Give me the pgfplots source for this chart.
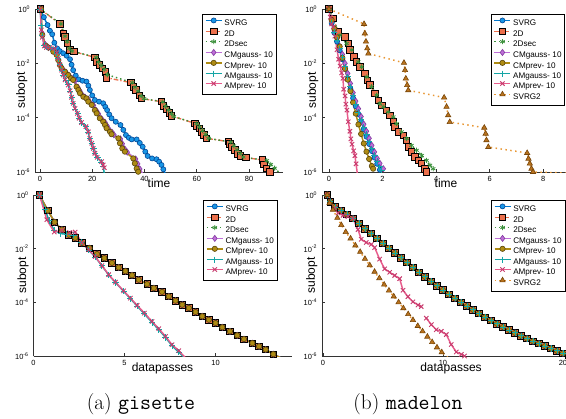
\documentclass[border=0pt]{standalone}
\usepackage{fontspec}
\usepackage{pgfplots}
\pgfplotsset{compat=1.18}
\usepackage{pgfplotstable}
\newfontfamily\arial{Liberation Sans}

\definecolor{cSVRG}{RGB}{0,120,205}
\definecolor{cSVRGf}{RGB}{25,150,230}
\definecolor{cSVRGd}{RGB}{0,70,150}
\definecolor{c2D}{RGB}{236,112,76}
\definecolor{c2Dsec}{RGB}{60,145,60}
\definecolor{cCMg}{RGB}{190,110,215}
\definecolor{cCMgd}{RGB}{130,60,160}
\definecolor{cCMp}{RGB}{175,140,20}
\definecolor{cCMpd}{RGB}{90,70,10}
\definecolor{cAMg}{RGB}{20,165,165}
\definecolor{cAMp}{RGB}{232,92,140}
\definecolor{cAMpd}{RGB}{200,60,110}
\definecolor{cSV2}{RGB}{232,150,50}
\definecolor{cSV2f}{RGB}{185,115,30}
\definecolor{cSV2d}{RGB}{120,70,10}

% y values are log10(subopt)
% gisette, datapasses: SVRG, 2D, 2Dsec, CMgauss, CMprev overlap
\pgfplotstableread{
x y
0.33 0
0.79 -0.58
1.16 -1.01
1.56 -1.29
1.93 -1.48
2.29 -1.60
2.66 -1.79
3.08 -1.98
3.49 -2.20
3.89 -2.35
4.31 -2.53
4.68 -2.70
5.05 -2.84
5.41 -2.99
5.78 -3.16
6.24 -3.32
6.61 -3.47
7.06 -3.61
7.43 -3.78
7.80 -3.94
8.17 -4.09
8.53 -4.21
8.90 -4.36
9.27 -4.52
9.63 -4.65
10.00 -4.77
10.37 -4.93
10.79 -5.08
11.19 -5.23
11.56 -5.37
12.02 -5.52
12.39 -5.64
12.75 -5.76
13.17 -5.93
13.58 -6.07
}\gisdpA

% madelon, datapasses: SVRG, 2D, 2Dsec, CMgauss, CMprev, AMgauss overlap
\pgfplotstableread{
x y
0.35 0
0.6 -0.25
1.0 -0.45
1.5 -0.58
2.0 -0.72
2.5 -0.88
3.0 -1.06
3.5 -1.26
4.0 -1.44
4.5 -1.62
5.0 -1.80
5.5 -1.98
6.0 -2.16
6.5 -2.34
7.0 -2.52
7.5 -2.70
8.0 -2.88
8.5 -3.05
9.0 -3.22
9.5 -3.38
10.0 -3.54
10.5 -3.70
11.0 -3.85
11.5 -4.00
12.0 -4.14
12.5 -4.28
13.0 -4.42
13.5 -4.55
14.0 -4.68
14.5 -4.80
15.0 -4.92
15.5 -5.03
16.0 -5.14
16.5 -5.25
17.0 -5.35
17.5 -5.45
18.0 -5.54
18.5 -5.63
19.0 -5.72
19.5 -5.81
20.0 -5.90
20.5 -5.97
}\maddpA

\pgfplotsset{
  subopt axis/.style={
    scale only axis, anchor=south west,
    ymin=-6, ymax=0, ytick={-6,-4,-2,0},
    yticklabels={10\textsuperscript{-6},10\textsuperscript{-4},10\textsuperscript{-2},10\textsuperscript{0}},
    axis x line*=bottom, axis y line*=left,
    axis line style={-, line width=0.55pt, black!80},
    tick align=inside, major tick length=2.2pt,
    tick style={black!80, line width=0.5pt},
    tick label style={font=\arial\fontsize{5.6}{6}\selectfont},
    /pgf/number format/assume math mode=true,
    label style={font=\arial\fontsize{9}{10}\selectfont},
    ylabel=subopt,
    xlabel style={anchor=center},
    ylabel style={anchor=center},
    unbounded coords=jump,
    legend cell align=left,
    legend style={anchor=north west, draw=black, line width=0.6pt,
      font=\arial\fontsize{6.1}{7}\selectfont,
      inner xsep=2pt, inner ysep=2.6pt, row sep=0pt, column sep=1pt,
      nodes={inner sep=0.5pt, text height=4.75pt, text depth=1.45pt}},
    legend image code/.code={
      \draw[mark repeat=2,mark phase=2] plot coordinates {(0pt,2.2pt) (6pt,2.2pt) (12pt,2.2pt)};},
  },
  top legend/.style={legend style={column 2/.style={nodes={text width=39.5pt, align=left}}}},
  bottom legend/.style={legend style={column 2/.style={nodes={text width=45.5pt, align=left}}}},
  pSVRG/.style={color=cSVRG, line width=1.1pt, mark=*, mark size=1.9pt,
    mark options={solid, fill=cSVRGf, draw=cSVRGd, line width=0.45pt}},
  p2D/.style={color=c2D, line width=1.0pt, dash pattern=on 3.5pt off 1.5pt on 1pt off 1.5pt,
    mark=square*, mark size=2.4pt, mark options={solid, fill=c2D, draw=black, line width=0.6pt}},
  p2Ds/.style={color=c2Dsec, line width=1.1pt, dash pattern=on 1.1pt off 2.2pt,
    mark=asterisk, mark size=1.9pt, mark options={solid, line width=0.6pt}},
  pCMg/.style={color=cCMg, line width=1.1pt, mark=diamond*, mark size=2.3pt,
    mark options={solid, fill=cCMg, draw=cCMgd, line width=0.45pt}},
  pCMp/.style={color=cCMp, line width=1.1pt, mark=*, mark size=2.0pt,
    mark options={solid, fill=cCMp, draw=cCMpd, line width=0.45pt}},
  pAMg/.style={color=cAMg, line width=1.1pt, mark=+, mark size=2.3pt,
    mark options={solid, line width=0.7pt}},
  pAMp/.style={color=cAMp, line width=1.1pt, mark=x, mark size=2.3pt,
    mark options={solid, draw=cAMpd, line width=0.7pt}},
  pSV2/.style={color=cSV2, line width=1.1pt, dash pattern=on 1.1pt off 2.6pt,
    mark=triangle*, mark size=2.3pt, mark options={solid, fill=cSV2f, draw=cSV2d, line width=0.45pt}},
}

\begin{document}
\begin{tikzpicture}

% ---------- (a) gisette, time ----------
\begin{axis}[subopt axis, top legend, at={(26.25pt,-129pt)}, width=186pt, height=122.25pt,
  xmin=-1.9, xmax=93, xtick={0,20,40,60,80}, xlabel=time,
  xlabel style={at={(axis description cs:0.5,-0.066)}},
  ylabel style={at={(axis description cs:-0.053,0.5)}},
  legend style={at={(axis description cs:0.673,0.969)}},
  legend entries={SVRG,2D,2Dsec,CMgauss- 10,CMprev- 10,AMgauss- 10,AMprev- 10}]
\addplot[pSVRG] coordinates {(0.1,0) (1.5,-0.3) (2.9,-0.59) (3.8,-0.8) (4.7,-0.93) (5.5,-1.24)
 (6.6,-1.45) (7.6,-1.55) (8.9,-1.63) (10.2,-1.72) (11.5,-1.85) (12.1,-2.05) (12.7,-2.25)
 (13.7,-2.45) (14.8,-2.59) (16.3,-2.64) (17.8,-2.67) (18.5,-2.82) (19.1,-2.98) (20.0,-3.18)
 (21.0,-3.35) (22.6,-3.41) (24.2,-3.47) (25.0,-3.6) (25.7,-3.72) (26.5,-3.88) (27.4,-4.02)
 (29.0,-4.15) (30.8,-4.27) (31.9,-4.45) (32.9,-4.64) (34.0,-4.74) (35.1,-4.8) (37.0,-4.8)
 (38.2,-4.93) (39.3,-5.07) (40.3,-5.25) (41.2,-5.41) (42.9,-5.5) (44.6,-5.53) (45.6,-5.62)
 (46.5,-5.74) (47.2,-5.9) (47.9,-6.05)};
\addplot[p2D] coordinates {(0.1,0) (7.6,-0.55) (8.9,-0.90) (9.6,-1.02) (10.6,-1.26) (11.5,-1.51)
 (13.0,-1.57) (21.0,-1.78) (21.7,-1.94) (22.7,-2.06) (24.0,-2.18) (25.0,-2.31) (25.5,-2.53)
 (34.8,-2.71) (35.7,-2.86) (36.7,-2.98) (38.0,-3.17) (38.9,-3.30) (46.5,-3.41) (47.2,-3.57)
 (48.4,-3.69) (49.5,-3.82) (50.4,-3.94) (59.3,-4.21) (59.9,-4.31) (60.9,-4.39) (61.8,-4.52)
 (62.7,-4.64) (63.7,-4.76) (72.0,-4.88) (72.7,-4.97) (73.3,-5.07) (74.6,-5.19) (75.8,-5.34)
 (76.7,-5.41) (78.8,-5.47) (85.2,-5.56) (85.7,-5.72) (86.7,-5.87) (88.0,-5.99)};
\addplot[p2Ds] coordinates {(0,0) (8.0,-0.55) (9.6,-1.0) (10.4,-1.2) (11.2,-1.45) (12.3,-1.55)
 (21.5,-1.78) (22.4,-1.95) (23.4,-2.08) (24.6,-2.22) (25.8,-2.42) (35.3,-2.71) (36.4,-2.88)
 (37.5,-3.02) (38.7,-3.2) (39.8,-3.3) (47.0,-3.42) (48.0,-3.58) (49.2,-3.72) (50.3,-3.86)
 (51.2,-3.96) (60.0,-4.22) (61.0,-4.34) (62.2,-4.48) (63.4,-4.62) (64.5,-4.76) (73.0,-4.9)
 (74.2,-5.04) (75.4,-5.18) (76.6,-5.32) (77.8,-5.45) (86.8,-5.58) (88.3,-5.72) (89.8,-5.86)
 (91.8,-6.05)};
\addplot[pCMg] coordinates {(0.3,0) (0.9,-0.9) (2.0,-1.3) (3.3,-1.42) (5.0,-1.55) (6.5,-1.68)
 (7.2,-1.88) (7.9,-2.08) (8.6,-2.2) (9.9,-2.32) (11.2,-2.45) (12.5,-2.57) (13.4,-2.63)
 (14.5,-2.88) (15.2,-3.0) (15.9,-3.12) (17.2,-3.24) (18.4,-3.31) (19.1,-3.43) (20.5,-3.55)
 (21.6,-3.74) (22.4,-3.86) (23.6,-4.04) (24.9,-4.17) (25.6,-4.29) (26.3,-4.41) (27.6,-4.54)
 (28.3,-4.63) (30.8,-4.78) (31.5,-4.96) (32.4,-5.15) (33.4,-5.27) (36.6,-5.52) (37.4,-5.7)
 (38.2,-5.89) (39.3,-6.05)};
\addplot[pCMp] coordinates {(0.4,0) (0.9,-0.96) (2.2,-1.35) (3.2,-1.42) (5.1,-1.57) (6.4,-1.69)
 (7.0,-1.88) (7.6,-2.06) (8.3,-2.18) (9.6,-2.31) (10.8,-2.43) (11.9,-2.55) (12.7,-2.61)
 (14.0,-2.86) (14.7,-2.98) (15.3,-3.10) (16.6,-3.23) (17.8,-3.29) (18.5,-3.41) (19.8,-3.53)
 (21.0,-3.72) (21.7,-3.84) (22.9,-4.02) (24.2,-4.15) (24.9,-4.27) (25.5,-4.39) (26.8,-4.52)
 (27.4,-4.61) (30.0,-4.76) (30.6,-4.94) (31.5,-5.13) (32.5,-5.25) (35.7,-5.50) (36.3,-5.68)
 (37.0,-5.87) (37.6,-5.99) (38.2,-6.07)};
\addplot[pAMg] coordinates {(0,0) (0.6,-0.62) (0.9,-0.98) (1.6,-1.33) (2.5,-1.4) (4.0,-1.42)
 (5.5,-1.5) (6.4,-1.63) (7.0,-1.83) (7.7,-2.05) (8.3,-2.27) (9.0,-2.45) (9.8,-2.62)
 (10.9,-2.78) (11.6,-3.02) (12.2,-3.27) (12.8,-3.49) (13.5,-3.68) (14.4,-3.86) (15.1,-4.04)
 (16.0,-4.2) (17.5,-4.34) (18.4,-4.54) (19.1,-4.78) (19.8,-4.96) (20.5,-5.15) (21.1,-5.33)
 (22.0,-5.48) (23.5,-5.64) (24.2,-5.78) (24.6,-6.05)};
\addplot[pAMp] coordinates {(0.1,0) (0.5,-0.77) (0.9,-1.04) (1.7,-1.36) (2.5,-1.42) (3.8,-1.42)
 (5.7,-1.46) (6.4,-1.61) (7.0,-1.82) (7.6,-2.04) (8.3,-2.25) (8.9,-2.43) (9.6,-2.61)
 (10.8,-2.80) (11.5,-3.01) (12.1,-3.25) (12.7,-3.47) (13.4,-3.66) (14.3,-3.84) (15.0,-4.02)
 (15.9,-4.18) (17.6,-4.33) (18.5,-4.52) (19.1,-4.76) (19.8,-4.94) (20.4,-5.13) (21.0,-5.31)
 (21.9,-5.46) (23.6,-5.62) (24.2,-5.74) (24.6,-5.84)};
\end{axis}

% ---------- (b) madelon, time ----------
\begin{axis}[subopt axis, top legend, at={(241.5pt,-129pt)}, width=186pt, height=122.25pt,
  xmin=-0.26, xmax=9, xtick={0,2,4,6,8}, xlabel=time,
  xlabel style={at={(axis description cs:0.5,-0.066)}},
  ylabel style={at={(axis description cs:-0.037,0.5)}},
  legend style={at={(axis description cs:0.680,0.969)}},
  legend entries={SVRG,2D,2Dsec,CMgauss- 10,CMprev- 10,AMgauss- 10,AMprev- 10,SVRG2}]
\addplot[pSVRG] coordinates {(0,0) (0.1,-0.52) (0.2,-0.88) (0.3,-1.2) (0.4,-1.52) (0.5,-1.85)
 (0.6,-2.2) (0.7,-2.58) (0.8,-2.94) (0.9,-3.28) (1.0,-3.58) (1.1,-3.87) (1.2,-4.15) (1.3,-4.43)
 (1.4,-4.7) (1.5,-4.97) (1.6,-5.23) (1.7,-5.47) (1.8,-5.7) (1.9,-5.92)};
\addplot[p2D] coordinates {(0,0) (0.16,-0.34) (0.35,-0.84) (0.60,-1.02) (0.72,-1.27) (0.78,-1.51)
 (0.93,-1.76) (1.03,-1.94) (1.16,-2.13) (1.34,-2.37) (1.43,-2.62) (1.53,-2.80) (1.72,-3.11)
 (1.84,-3.36) (1.97,-3.54) (2.15,-3.73) (2.28,-3.91) (2.40,-4.16) (2.46,-4.34) (2.59,-4.52)
 (2.77,-4.65) (2.90,-4.83) (2.96,-5.08) (3.08,-5.26) (3.21,-5.45) (3.33,-5.57) (3.46,-5.69)
 (3.58,-5.88) (3.64,-6.00)};
\addplot[p2Ds] coordinates {(0,0) (0.41,-0.96) (0.66,-1.27) (0.85,-1.51) (1.09,-1.94) (1.22,-2.13)
 (1.41,-2.50) (1.59,-2.86) (1.78,-3.17) (1.90,-3.48) (2.03,-3.60) (2.21,-3.79) (2.40,-3.97)
 (2.52,-4.22) (2.71,-4.52) (2.90,-4.77) (3.08,-5.02) (3.27,-5.20) (3.46,-5.39) (3.64,-5.57)
 (3.77,-5.75) (3.89,-5.88)};
\addplot[pCMg] coordinates {(0,0) (0.1,-0.45) (0.2,-0.78) (0.3,-1.08) (0.4,-1.37) (0.5,-1.67)
 (0.6,-2.00) (0.7,-2.37) (0.8,-2.74) (0.9,-3.08) (1.0,-3.39) (1.1,-3.67) (1.2,-3.96) (1.3,-4.24)
 (1.4,-4.50) (1.5,-4.76) (1.6,-5.02) (1.7,-5.26) (1.8,-5.50) (1.9,-5.68) (2.03,-5.88)};
\addplot[pCMp] coordinates {(0,0) (0.1,-0.4) (0.2,-0.72) (0.3,-1.04) (0.4,-1.38) (0.5,-1.8)
 (0.6,-2.2) (0.7,-2.6) (0.8,-3.02) (0.9,-3.44) (1.0,-3.85) (1.1,-4.25) (1.2,-4.6) (1.3,-4.95)
 (1.4,-5.25) (1.5,-5.52) (1.6,-5.78) (1.65,-5.88)};
\addplot[pAMg] coordinates {(0,0) (0.1,-0.5) (0.2,-0.85) (0.3,-1.15) (0.4,-1.46) (0.5,-1.78)
 (0.6,-2.12) (0.7,-2.5) (0.8,-2.86) (0.9,-3.2) (1.0,-3.5) (1.1,-3.79) (1.2,-4.07) (1.3,-4.35)
 (1.4,-4.62) (1.5,-4.88) (1.6,-5.14) (1.7,-5.38) (1.8,-5.6) (1.9,-5.8) (1.97,-5.94)};
\addplot[pAMp] coordinates {(0,0) (0.05,-0.3) (0.1,-0.55) (0.16,-0.66) (0.22,-1.0) (0.3,-1.5)
 (0.36,-1.85) (0.42,-2.1) (0.47,-2.35) (0.52,-2.55) (0.55,-2.95) (0.6,-3.2) (0.63,-3.5)
 (0.67,-3.72) (0.72,-4.15) (0.78,-4.5) (0.82,-4.78) (0.86,-4.98) (0.92,-5.22) (0.97,-5.4)
 (1.01,-5.7) (1.06,-6.06)};
\addplot[pSV2] coordinates {(0,0) (1.31,-0.55) (1.34,-0.90) (1.38,-1.20) (1.43,-1.45) (1.47,-1.64)
 (2.80,-1.98) (2.84,-2.25) (2.87,-2.56) (2.92,-2.80) (2.96,-2.99) (4.30,-3.26) (4.39,-3.60)
 (4.45,-3.91) (4.51,-4.16) (5.80,-4.37) (5.85,-4.59) (5.88,-4.83) (5.95,-5.08) (7.40,-5.30)
 (7.45,-5.51) (7.50,-5.69) (7.56,-5.88) (7.62,-6.00) (9.6,-6.06)};
\end{axis}

% ---------- (a) gisette, datapasses ----------
\begin{axis}[subopt axis, bottom legend, at={(25.125pt,-267pt)}, width=193.5pt, height=120.75pt,
  xmin=0, xmax=14.17, xtick={0,5,10}, xlabel=datapasses,
  xlabel style={at={(axis description cs:0.5,-0.076)}},
  ylabel style={at={(axis description cs:-0.041,0.5)}},
  legend style={at={(axis description cs:0.657,0.969)}},
  legend entries={SVRG,2D,2Dsec,CMgauss- 10,CMprev- 10,AMgauss- 10,AMprev- 10}]
\addplot[pSVRG] table {\gisdpA};
\addplot[p2D] table {\gisdpA};
\addplot[p2Ds] table {\gisdpA};
\addplot[pCMg] table {\gisdpA};
\addplot[pCMp] table {\gisdpA};
\addplot[pAMg] coordinates {(0.33,0) (0.64,-0.55) (0.85,-0.95) (1.14,-1.32) (1.5,-1.44) (1.83,-1.46)
 (2.2,-1.5) (2.61,-1.75) (3.03,-2.06) (3.39,-2.31) (3.76,-2.64) (4.13,-2.98) (4.5,-3.26)
 (4.95,-3.59) (5.32,-3.86) (5.69,-4.14) (6.09,-4.43) (6.51,-4.75) (6.88,-5.02) (7.25,-5.31)
 (7.61,-5.62) (7.98,-5.86) (8.44,-6.17)};
\addplot[pAMp] coordinates {(0.33,0) (0.73,-0.92) (1.14,-1.38) (1.55,-1.32) (1.98,-1.40) (2.29,-1.38)
 (2.66,-1.78) (3.03,-2.04) (3.39,-2.29) (3.76,-2.63) (4.13,-2.97) (4.50,-3.25) (4.95,-3.57)
 (5.32,-3.84) (5.69,-4.11) (6.09,-4.40) (6.51,-4.71) (6.88,-4.98) (7.25,-5.27) (7.61,-5.58)
 (7.98,-5.80) (8.35,-6.07)};
\end{axis}

% ---------- (b) madelon, datapasses ----------
\begin{axis}[subopt axis, bottom legend, at={(241.5pt,-267pt)}, width=193.5pt, height=120.75pt,
  xmin=-0.08, xmax=21.42, xtick={0,10,20}, xlabel=datapasses,
  xlabel style={at={(axis description cs:0.5,-0.076)}},
  ylabel style={at={(axis description cs:-0.04,0.5)}},
  legend style={at={(axis description cs:0.654,0.969)}},
  legend entries={SVRG,2D,2Dsec,CMgauss- 10,CMprev- 10,AMgauss- 10,AMprev- 10,SVRG2}]
\addplot[pSVRG] table {\maddpA};
\addplot[p2D] table {\maddpA};
\addplot[p2Ds] table {\maddpA};
\addplot[pCMg] table {\maddpA};
\addplot[pCMp] table {\maddpA};
\addplot[pAMg] table {\maddpA};
\addplot[pAMp] coordinates {(0.35,0) (0.97,-0.49) (1.25,-0.67) (1.67,-0.76) (2.08,-0.80) (2.5,-0.88)
 (2.92,-1.29) (3.19,-1.65) (3.61,-1.77) (4.03,-1.84) (4.31,-1.96) (4.72,-2.39) (5.14,-2.75)
 (5.56,-2.88) (5.97,-3.00) (6.39,-3.12) (6.67,-3.55) (7.08,-3.79) (7.50,-3.98) (7.92,-4.10)
 (8.19,-4.16) (8.4,nan) (8.61,-4.59) (9.03,-4.83) (9.44,-5.02) (9.86,-5.08) (10.28,-5.20)
 (10.69,-5.57) (11.11,-5.85) (11.53,-5.94) (11.8,-6.0)};
\addplot[pSV2] coordinates {(0.35,0) (0.55,-0.3) (0.83,-0.55) (1.2,-0.85) (1.53,-1.12) (1.9,-1.38)
 (2.3,-1.62) (2.7,-1.88) (3.1,-2.12) (3.5,-2.38) (3.9,-2.62) (4.3,-2.86) (4.7,-3.1) (5.1,-3.34)
 (5.5,-3.56) (5.9,-3.78) (6.3,-4.0) (6.7,-4.22) (7.1,-4.44) (7.5,-4.66) (7.9,-4.88) (8.3,-5.08)
 (8.7,-5.28) (9.1,-5.48) (9.5,-5.68) (9.9,-5.86) (10.4,-6.05)};
\end{axis}

\node[font=\fontsize{16}{19}\selectfont] at (105.75pt,-303.4pt) {(a) \texttt{gisette}};
\node[font=\fontsize{16}{19}\selectfont] at (306pt,-303.4pt) {(b) \texttt{madelon}};

\pgfresetboundingbox
\useasboundingbox (0,0) rectangle (424.5pt,-313.5pt);
\end{tikzpicture}
\end{document}
